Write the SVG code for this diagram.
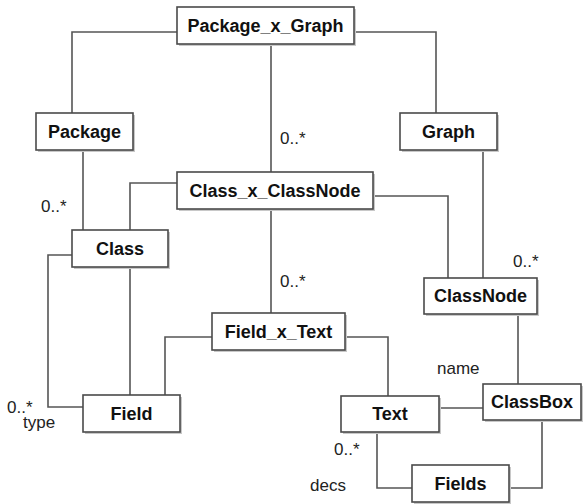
<svg xmlns="http://www.w3.org/2000/svg" width="586" height="504" viewBox="0 0 586 504">
<style>
.box{fill:#fff;stroke:#4a4a4a;stroke-width:1.6}
.sh{fill:#c8c8c8}
.lbl{font-family:"Liberation Sans",Arial,sans-serif;font-weight:bold;font-size:18px;fill:#111;text-anchor:middle}
.ann{font-family:"Liberation Sans",Arial,sans-serif;font-size:17px;fill:#222}
.con{fill:none;stroke:#555;stroke-width:1.6}
</style>
<rect width="586" height="504" fill="#fff"/>
<g id="connectors">
<polyline class="con" points="177,32 72,32 72,113"/>
<polyline class="con" points="354,32 436,32 436,113"/>
<line class="con" x1="271" y1="44" x2="271" y2="172"/>
<line class="con" x1="83" y1="150" x2="83" y2="230"/>
<polyline class="con" points="177,183 130,183 130,230"/>
<polyline class="con" points="373,196 448,196 448,278"/>
<line class="con" x1="483" y1="150" x2="483" y2="278"/>
<line class="con" x1="271" y1="209" x2="271" y2="313"/>
<polyline class="con" points="72,255 48,255 48,407 83,407"/>
<line class="con" x1="130" y1="267" x2="130" y2="395"/>
<polyline class="con" points="212,337 165,337 165,395"/>
<polyline class="con" points="345,337 388,337 388,396"/>
<line class="con" x1="518" y1="314" x2="518" y2="384"/>
<line class="con" x1="439" y1="408" x2="483" y2="408"/>
<polyline class="con" points="377,432 377,488 412,488"/>
<polyline class="con" points="542,420 542,488 509,488"/>
<text class="ann" x="280" y="144">0..*</text>
<text class="ann" x="41" y="212">0..*</text>
<text class="ann" x="513" y="267">0..*</text>
<text class="ann" x="280" y="287">0..*</text>
<text class="ann" x="7" y="413">0..*</text>
<text class="ann" x="23" y="428">type</text>
<text class="ann" x="437" y="374">name</text>
<text class="ann" x="334" y="455">0..*</text>
<text class="ann" x="310" y="491">decs</text>
</g>
<g id="Package_x_Graph"><rect class="sh" x="179" y="9" width="177" height="37"/><rect class="box" x="177" y="7" width="177" height="37"/><text class="lbl" x="265.5" y="32">Package_x_Graph</text></g>
<g id="Package"><rect class="sh" x="38" y="115" width="97" height="37"/><rect class="box" x="36" y="113" width="97" height="37"/><text class="lbl" x="84.5" y="138">Package</text></g>
<g id="Graph"><rect class="sh" x="402" y="115" width="97" height="37"/><rect class="box" x="400" y="113" width="97" height="37"/><text class="lbl" x="448.5" y="138">Graph</text></g>
<g id="Class_x_ClassNode"><rect class="sh" x="179" y="174" width="196" height="37"/><rect class="box" x="177" y="172" width="196" height="37"/><text class="lbl" x="275" y="197">Class_x_ClassNode</text></g>
<g id="Class"><rect class="sh" x="74" y="232" width="96" height="37"/><rect class="box" x="72" y="230" width="96" height="37"/><text class="lbl" x="120" y="255">Class</text></g>
<g id="Field_x_Text"><rect class="sh" x="214" y="315" width="133" height="37"/><rect class="box" x="212" y="313" width="133" height="37"/><text class="lbl" x="278.5" y="338">Field_x_Text</text></g>
<g id="ClassNode"><rect class="sh" x="426" y="280" width="113" height="36"/><rect class="box" x="424" y="278" width="113" height="36"/><text class="lbl" x="480.5" y="302">ClassNode</text></g>
<g id="Field"><rect class="sh" x="85" y="397" width="97" height="37"/><rect class="box" x="83" y="395" width="97" height="37"/><text class="lbl" x="131.5" y="420">Field</text></g>
<g id="Text"><rect class="sh" x="343" y="398" width="98" height="36"/><rect class="box" x="341" y="396" width="98" height="36"/><text class="lbl" x="390" y="420">Text</text></g>
<g id="ClassBox"><rect class="sh" x="485" y="386" width="98" height="36"/><rect class="box" x="483" y="384" width="98" height="36"/><text class="lbl" x="532" y="408">ClassBox</text></g>
<g id="Fields"><rect class="sh" x="414" y="467" width="97" height="37"/><rect class="box" x="412" y="465" width="97" height="37"/><text class="lbl" x="460.5" y="490">Fields</text></g>
</svg>
